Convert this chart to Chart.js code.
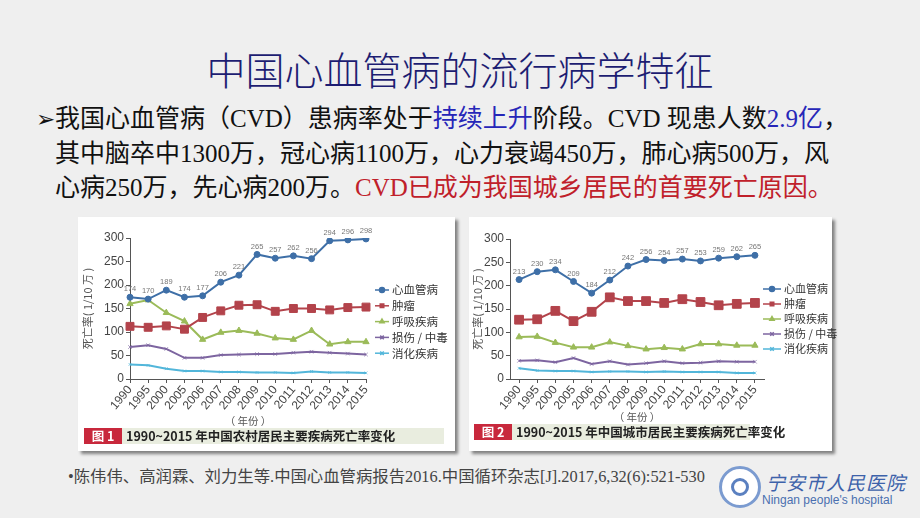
<!DOCTYPE html>
<html>
<head>
<meta charset="utf-8">
<script src="https://cdn.jsdelivr.net/npm/chart.js@4.4.0/dist/chart.umd.min.js"></script>
<style>
  body { margin: 0; background: #efefef; }
  #slide { position: relative; width: 920px; height: 518px; overflow: hidden; background: #efefef;
    font-family: "Noto Sans CJK SC", sans-serif; }
  .title { position: absolute; left: 0; top: 44px; width: 920px; text-align: center; font-size: 39px;
    line-height: 48px; color: #1d1d72; font-weight: 300; }
  .bullets { position: absolute; left: 36px; top: 102px; font-size: 25px; line-height: 34.5px; color: #111;
    white-space: nowrap; font-family: "Liberation Serif", "Noto Sans CJK SC", serif; }
  .bullets .arrow { position: absolute; left: 0; top: 0; font-size: 23px; font-family: "DejaVu Sans"; }
  .bullets .txt { margin-left: 19px; }
  .blue { color: #2626b8; }
  .red { color: #c0202a; }
  .panel { position: absolute; background: #fff; box-shadow: 3px 3px 3px #808080; }
  canvas { position: absolute; }
  .cap { position: absolute; height: 16px; background: #e9eddf; font-size: 12.5px; line-height: 16px;
    color: #222; white-space: nowrap; font-weight: bold; }
  .cap .tag { display: inline-block; width: 38px; background: #c8283c; color: #fff; text-align: center;
    margin-right: 4px; font-weight: bold; }
  .foot { position: absolute; left: 68px; top: 466px; font-size: 16px; line-height: 22px; color: #444;
    white-space: nowrap; font-family: "Liberation Sans Narrow", "Liberation Serif", "Noto Sans CJK SC";
    transform-origin: left center; }
  .logo { position: absolute; left: 719px; top: 466px; width: 36px; height: 36px; border-radius: 50%;
    border: 3px solid #7b9bd0; background: #fff; }
  .logo:after { content: ""; position: absolute; left: 9px; top: 9px; width: 12px; height: 12px;
    border: 3px solid #5b80c0; border-radius: 50%; }
  .hosp { position: absolute; left: 766px; top: 468px; font-size: 19px; color: #3d62aa; font-style: italic;
    letter-spacing: 1px; }
  .hosp2 { position: absolute; left: 762px; top: 493px; font-size: 12px; color: #4a6fb0;
    font-family: "Liberation Sans Narrow", "Liberation Sans"; }
</style>
</head>
<body>
<div id="slide">
  <div class="title">中国心血管病的流行病学特征</div>
  <div class="bullets">
    <span class="arrow">➢</span>
    <div class="txt">我国心血管病（CVD）患病率处于<span class="blue">持续上升</span>阶段。CVD 现患人数<span class="blue">2.9亿</span>，<br>
    其中脑卒中1300万，冠心病1100万，心力衰竭450万，肺心病500万，风<br>
    心病250万，先心病200万。<span class="red">CVD已成为我国城乡居民的首要死亡原因。</span></div>
  </div>

  <div class="panel" style="left:78px;top:217px;width:377px;height:234px;"></div>
  <div class="panel" style="left:469px;top:217px;width:363px;height:234px;"></div>

  <canvas id="rural" width="372" height="205" style="left:80px;top:222px;width:372px;height:205px;"></canvas>
  <canvas id="urban" width="368" height="201" style="left:470px;top:222px;width:368px;height:201px;"></canvas>

  <div class="cap" style="left:84px;top:428px;width:360px;"><span class="tag">图 1</span>1990~2015 年中国农村居民主要疾病死亡率变化</div>
  <div class="cap" style="left:474px;top:424px;width:276px;"><span class="tag">图 2</span>1990~2015 年中国城市居民主要疾病死亡率变化</div>

  <div class="foot" id="foot">•陈伟伟、高润霖、刘力生等.中国心血管病报告2016.中国循环杂志[J].2017,6,32(6):521-530</div>
  <div class="logo"></div>
  <div class="hosp">宁安市人民医院</div>
  <div class="hosp2">Ningan people's hospital</div>
</div>

<script>
const years = ["1990", "1995", "2000", "2005", "2006", "2007", "2008", "2009", "2010", "2011", "2012", "2013", "2014", "2015"];
const seriesNames = ["心血管病", "肿瘤", "呼吸疾病", "损伤 / 中毒", "消化疾病"];
const yTicks = [0, 50, 100, 150, 200, 250, 300];

// 农村
const ruralCvd = [174, 170, 189, 174, 177, 206, 221, 265, 257, 262, 256, 294, 296, 298];
const ruralTumor = [112, 110, 113, 106, 131, 145, 157, 158, 144, 150, 150, 147, 152, 153];
const ruralResp = [160, 168, 141, 123, 84, 99, 103, 97, 87, 84, 103, 74, 79, 79];
const ruralInjury = [68, 72, 64, 45, 45, 51, 52, 53, 53, 56, 58, 56, 54, 52];
const ruralDigest = [31, 29, 22, 17, 17, 15, 15, 14, 14, 13, 16, 14, 14, 13];

// 城市
const urbanCvd = [213, 230, 234, 209, 184, 212, 242, 256, 254, 257, 253, 259, 262, 265];
const urbanTumor = [127, 128, 146, 124, 144, 175, 167, 167, 163, 171, 165, 158, 161, 163];
const urbanResp = [90, 91, 78, 68, 68, 79, 71, 64, 67, 64, 75, 75, 72, 72];
const urbanInjury = [39, 40, 36, 45, 32, 38, 31, 34, 38, 34, 35, 38, 37, 37];
const urbanDigest = [23, 18, 17, 17, 15, 16, 16, 15, 16, 15, 15, 15, 13, 13];

const colors = ["#3e6fa7", "#b3434b", "#9bbb59", "#7d65a0", "#52b6da"];
const styles = ["circle", "rect", "triangle", "crossRot", "crossRot"];

// value labels over the CVD line
const valueLabels = {
  id: "valueLabels",
  afterDatasetsDraw(chart) {
    const ctx = chart.ctx;
    const ds = chart.data.datasets[0];
    const meta = chart.getDatasetMeta(0);
    ctx.save();
    ctx.font = '7.5px "Liberation Sans"';
    ctx.fillStyle = "#777";
    ctx.textAlign = "center";
    ctx.textBaseline = "middle";
    meta.data.forEach((pt, i) => ctx.fillText(ds.data[i], pt.x, pt.y - 8));
    ctx.restore();
  }
};

// line + marker legend on the right side
const sideLegend = {
  id: "sideLegend",
  afterDraw(chart, args, opts) {
    const ctx = chart.ctx;
    chart.data.datasets.forEach((ds, i) => {
      const y = opts.y + i * opts.gap;
      ctx.save();
      ctx.strokeStyle = ds.borderColor;
      ctx.lineWidth = 1.5;
      ctx.beginPath();
      ctx.moveTo(opts.x, y);
      ctx.lineTo(opts.x + opts.w, y);
      ctx.stroke();
      ctx.fillStyle = ds.borderColor;
      Chart.helpers.drawPoint(ctx, { pointStyle: ds.pointStyle, radius: 2.5, borderWidth: 1 }, opts.x + opts.w / 2, y);
      ctx.fillStyle = "#333";
      ctx.font = opts.font;
      ctx.textBaseline = "middle";
      ctx.fillText(ds.label, opts.x + opts.w + 3, y);
      ctx.restore();
    });
  }
};

function makeDatasets(lists, big) {
  return lists.map((d, i) => ({
    label: seriesNames[i],
    data: d,
    borderColor: colors[i],
    backgroundColor: colors[i],
    pointBackgroundColor: colors[i],
    pointBorderColor: colors[i],
    pointStyle: styles[i],
    pointRadius: [3, big ? 6.2 : 5.6, 3.6, 2.5, 2][i],
    pointBorderWidth: i > 2 ? 0.7 : 1,
    borderWidth: 2,
    tension: 0
  }));
}

function makeChart(id, lists, lay) {
  return new Chart(document.getElementById(id), {
    type: "line",
    data: { labels: years, datasets: makeDatasets(lists, lay.big) },
    plugins: [valueLabels, sideLegend],
    options: {
      responsive: false,
      animation: false,
      layout: { padding: { left: 0, top: lay.top, right: lay.right, bottom: 0 } },
      plugins: {
        legend: { display: false },
        tooltip: { enabled: false },
        sideLegend: lay.legend
      },
      scales: {
        x: {
          offset: lay.offset,
          grid: { drawOnChartArea: false, offset: false, tickLength: 4, color: "#555" },
          border: { color: "#555", width: 1 },
          ticks: { autoSkip: false, minRotation: 50, maxRotation: 50, padding: 0, color: "#444",
                   font: { family: "Liberation Sans", size: 12 } },
          title: { display: true, text: "（ 年份 ）", color: "#555", padding: 0,
                   font: { family: "Noto Sans CJK SC", size: 10.5 } },
          afterFit(s) { s.height = lay.xh; }
        },
        y: {
          min: 0, max: 300,
          afterBuildTicks(s) { s.ticks = yTicks.map(v => ({ value: v })); },
          grid: { drawOnChartArea: false, tickLength: 4, color: "#555" },
          border: { color: "#555", width: 1 },
          ticks: { padding: 2, color: "#444", font: { family: "Liberation Sans", size: 12 } },
          title: { display: true, text: "死亡率( 1/10 万 )", color: "#555", padding: 1,
                   font: { family: "Noto Sans CJK SC", size: 11 } },
          afterFit(s) { s.width = lay.yw; }
        }
      }
    }
  });
}

makeChart("rural", [ruralCvd, ruralTumor, ruralResp, ruralInjury, ruralDigest],
  { top: 16, right: 86, yw: 50, xh: 48, offset: false, big: false,
    legend: { x: 295, y: 68, gap: 15.8, w: 14, font: '11.5px "Noto Sans CJK SC"' } });

makeChart("urban", [urbanCvd, urbanTumor, urbanResp, urbanInjury, urbanDigest],
  { top: 17, right: 74, yw: 40, xh: 44, offset: true, big: true,
    legend: { x: 293, y: 67, gap: 15, w: 18, font: '11px "Noto Sans CJK SC"' } });

// squeeze the reference line to its width
const foot = document.getElementById("foot");
foot.style.transform = "scaleX(" + (637 / foot.offsetWidth) + ")";
</script>
</body>
</html>
